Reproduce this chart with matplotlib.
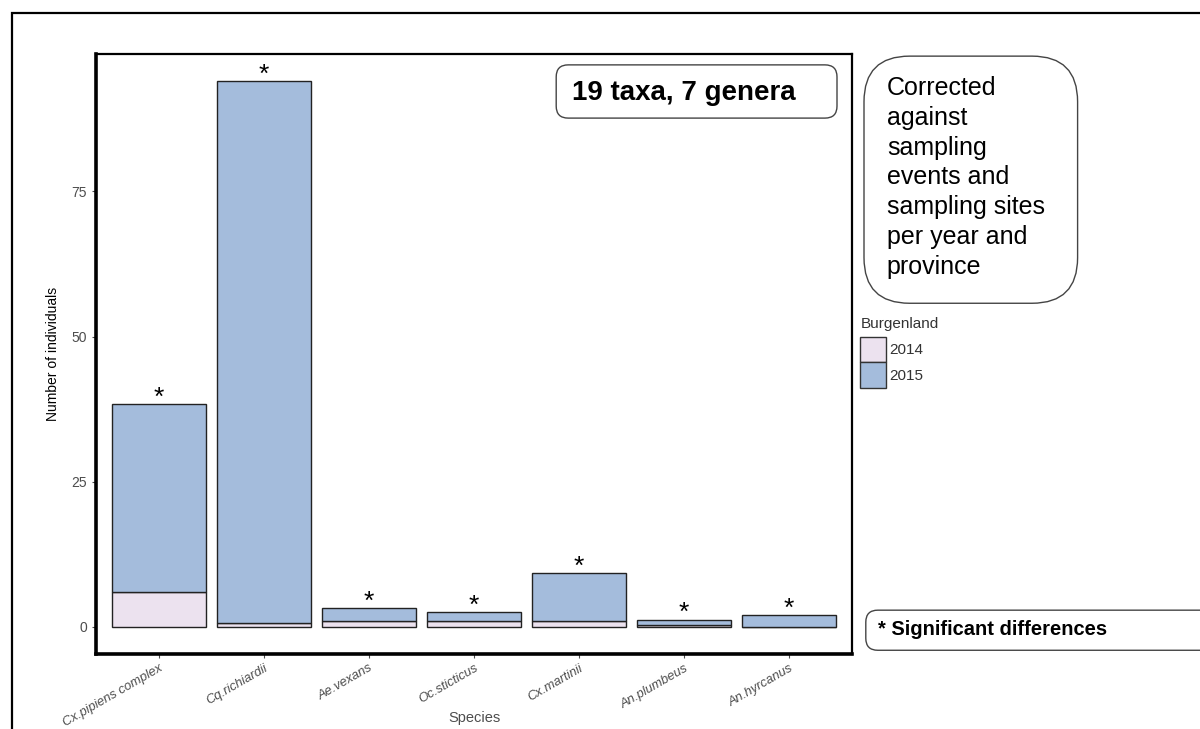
import matplotlib.pyplot as plt
from matplotlib.patches import FancyBboxPatch, Patch, Rectangle

plt.rcParams['font.family'] = ['Liberation Sans', 'DejaVu Sans']

species = ['Cx.pipiens complex', 'Cq.richiardii', 'Ae.vexans', 'Oc.sticticus',
           'Cx.martinii', 'An.plumbeus', 'An.hyrcanus']
n_2014 = [5.9, 0.6, 0.9, 0.9, 0.9, 0.2, 0.0]
n_2015 = [32.5, 93.4, 2.3, 1.6, 8.3, 1.0, 2.0]
significant = [True, True, True, True, True, True, True]

col_2014 = '#ece2ef'
col_2015 = '#a4bcdc'
grey = '#4d4d4d'

fig = plt.figure(figsize=(12, 7.29), dpi=100)

# outer frame
fig.add_artist(Rectangle((0.010, -0.1), 1.1, 1.082, transform=fig.transFigure,
                         fill=False, lw=1.6, ec='black'))

ax = fig.add_axes([0.080, 0.103, 0.630, 0.823])
x = list(range(len(species)))
totals = [a + b for a, b in zip(n_2014, n_2015)]
ax.bar(x, n_2014, width=0.9, color=col_2014, edgecolor='#222222', lw=1.0, zorder=2)
ax.bar(x, n_2015, width=0.9, bottom=n_2014, color=col_2015, edgecolor='#222222',
       lw=1.0, zorder=2)
for xi, t, s in zip(x, totals, significant):
    if s:
        ax.text(xi, t - 0.1, '*', ha='center', va='baseline', fontsize=19,
                color='black', zorder=3)

ax.set_xlim(-0.6, 6.6)
ax.set_ylim(-4.7, 98.7)
ax.set_yticks([0, 25, 50, 75])
ax.set_xticks(x)
ax.set_xticklabels(species, rotation=30, ha='right', rotation_mode='anchor',
                   fontstyle='italic', fontsize=9.4, color=grey)
ax.tick_params(axis='y', labelsize=10, labelcolor=grey, color=grey, length=3)
ax.tick_params(axis='x', color=grey, length=3, pad=3)
ax.set_ylabel('Number of individuals', fontsize=10, labelpad=8)
ax.set_xlabel('Species', fontsize=10.5, color=grey)
ax.xaxis.set_label_coords(0.5, -0.095)
for side in ['left', 'bottom']:
    ax.spines[side].set_linewidth(2.6)
for side in ['top', 'right']:
    ax.spines[side].set_linewidth(1.6)

handles = [Patch(facecolor=col_2014, edgecolor='#333333', label='2014'),
           Patch(facecolor=col_2015, edgecolor='#333333', label='2015')]
leg = fig.legend(handles=handles, title='Burgenland', loc='upper left',
                 bbox_to_anchor=(0.717, 0.565), frameon=False, fontsize=11,
                 title_fontsize=11, handlelength=1.7, handleheight=2.2,
                 handletextpad=0.2, labelspacing=0.0, borderaxespad=0,
                 borderpad=0)
leg._legend_box.align = 'left'
leg._legend_box.sep = 4
for t in leg.get_texts():
    t.set_color('#333333')
leg.get_title().set_color('#333333')

# annotation boxes
def round_box(x0, y0, w, h, pad):
    fig.add_artist(FancyBboxPatch((x0, y0), w, h, transform=fig.transFigure,
                                  boxstyle=f'round,pad=0,rounding_size={pad}',
                                  fc='white', ec='#444444', lw=1.0,
                                  mutation_aspect=1200 / 729))

round_box(0.4635, 0.838, 0.234, 0.073, 0.010)
fig.text(0.477, 0.872, '19 taxa, 7 genera', fontsize=20, fontweight='bold',
         va='center', ha='left')

round_box(0.720, 0.584, 0.178, 0.339, 0.038)
fig.text(0.739, 0.896,
         'Corrected\nagainst\nsampling\nevents and\nsampling sites\nper year and\nprovince',
         fontsize=18, va='top', ha='left', linespacing=1.31)

round_box(0.7215, 0.108, 0.290, 0.055, 0.010)
fig.text(0.7315, 0.136, '* Significant differences', fontsize=14.5,
         fontweight='bold', va='center', ha='left')

fig.savefig('out.png', dpi=100)
